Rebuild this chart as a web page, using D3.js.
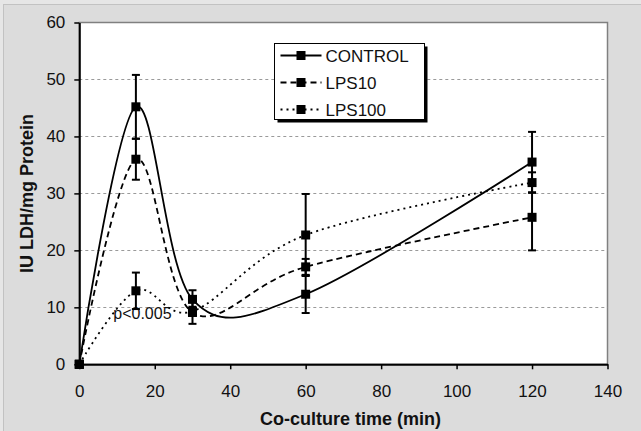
<!DOCTYPE html>
<html>
<head>
<meta charset="utf-8">
<script src="https://cdn.jsdelivr.net/npm/d3@7"></script>
<style>
  html, body { margin: 0; padding: 0; background: #dddddd; }
  svg { display: block; font-family: "Liberation Sans", Arial, sans-serif; }
</style>
</head>
<body>
<svg id="chart" width="641" height="431"></svg>
<script>
// ---- data ----
const times = [0, 15, 30, 60, 120];
const seriesNames = ["CONTROL", "LPS10", "LPS100"];
const controlValues = [0, 45.2, 11.4, 12.3, 35.5];
const controlErrors = [0, 5.6, 1.6, 3.3, 5.3];
const lps10Values = [0, 36.0, 9.1, 17.1, 25.8];
const lps10Errors = [0, 3.6, 2.0, 1.4, 5.8];
const lps100Values = [0, 12.9, 9.3, 22.7, 31.9];
const lps100Errors = [0, 3.2, 0.8, 7.2, 1.8];
const xTicks = [0, 20, 40, 60, 80, 100, 120, 140];
const yTicks = [0, 10, 20, 30, 40, 50, 60];
const annotation = { text: "p<0.005", x: 9, y: 8.0 };

const series = [
  { name: seriesNames[0], values: controlValues, errors: controlErrors, dash: null },
  { name: seriesNames[1], values: lps10Values, errors: lps10Errors, dash: "6,4" },
  { name: seriesNames[2], values: lps100Values, errors: lps100Errors, dash: "2,4" }
];

// ---- layout ----
const W = 641, H = 431;
const plot = { left: 79.3, right: 607.5, top: 22.5, bottom: 364.3 };

const svg = d3.select("#chart");

// outer chart area
svg.append("rect").attr("x", 0).attr("y", 0).attr("width", W).attr("height", H).attr("fill", "#e6e6e6");
svg.append("rect").attr("x", 3.5).attr("y", 4.5).attr("width", W - 3).attr("height", H - 4)
  .attr("fill", "#dcdcdc").attr("stroke", "#c2c2c2").attr("stroke-width", 1);

const x = d3.scaleLinear().domain([0, 140]).range([plot.left, plot.right]);
const y = d3.scaleLinear().domain([0, 60]).range([plot.bottom, plot.top]);

// plot area
svg.append("rect")
  .attr("x", plot.left).attr("y", plot.top)
  .attr("width", plot.right - plot.left).attr("height", plot.bottom - plot.top)
  .attr("fill", "#ffffff").attr("stroke", "#808080").attr("stroke-width", 1.5);

// gridlines
svg.append("g").selectAll("line")
  .data(yTicks.filter(t => t > 0 && t < 60))
  .join("line")
  .attr("x1", plot.left).attr("x2", plot.right)
  .attr("y1", d => Math.round(y(d)) + 0.5).attr("y2", d => Math.round(y(d)) + 0.5)
  .attr("stroke", "#9a9a9a").attr("stroke-width", 1).attr("stroke-dasharray", "3,3");

// axes
const yAxis = d3.axisLeft(y).tickValues(yTicks).tickSize(5).tickPadding(9).tickSizeOuter(0);
const xAxis = d3.axisBottom(x).tickValues(xTicks).tickSize(5).tickPadding(16).tickSizeOuter(0);

const gy = svg.append("g").attr("transform", `translate(${plot.left},0)`).call(yAxis);
const gx = svg.append("g").attr("transform", `translate(0,${plot.bottom})`).call(xAxis);
[gx, gy].forEach(g => {
  g.select(".domain").attr("stroke", "#000").attr("stroke-width", 2);
  g.selectAll(".tick line").attr("stroke", "#000").attr("stroke-width", 1.5);
  g.selectAll(".tick text").attr("fill", "#111").style("font-size", "17px")
    .style("font-family", '"Liberation Sans", Arial, sans-serif');
});

// axis titles
svg.append("text")
  .attr("x", (plot.left + plot.right) / 2 + 7).attr("y", 425)
  .attr("text-anchor", "middle")
  .style("font-size", "18px").style("font-weight", "bold").attr("fill", "#111")
  .text("Co-culture time (min)");
svg.append("text")
  .attr("transform", `translate(33,${(plot.top + plot.bottom) / 2}) rotate(-90)`)
  .attr("text-anchor", "middle")
  .style("font-size", "18px").style("font-weight", "bold").attr("fill", "#111")
  .text("IU LDH/mg Protein");

// lines
const line = d3.line()
  .x(d => x(d[0])).y(d => y(d[1]))
  .curve(d3.curveCardinal.tension(0));

const gLines = svg.append("g");
series.forEach(s => {
  gLines.append("path")
    .datum(times.map((t, i) => [t, s.values[i]]))
    .attr("d", line)
    .attr("fill", "none").attr("stroke", "#000").attr("stroke-width", 1.8)
    .attr("stroke-dasharray", s.dash);
});

// annotation
svg.append("text")
  .attr("x", x(annotation.x)).attr("y", y(annotation.y))
  .style("font-size", "16px").attr("fill", "#111")
  .text(annotation.text);

// error bars and markers
const gErr = svg.append("g");
series.forEach(s => {
  times.forEach((t, i) => {
    const e = s.errors[i];
    if (!e) return;
    const cx = x(t);
    const y1 = y(s.values[i] + e), y2 = y(s.values[i] - e);
    gErr.append("line").attr("x1", cx).attr("x2", cx).attr("y1", y1).attr("y2", y2)
      .attr("stroke", "#000").attr("stroke-width", 2);
    [y1, y2].forEach(yy => {
      gErr.append("line").attr("x1", cx - 4).attr("x2", cx + 4).attr("y1", yy).attr("y2", yy)
        .attr("stroke", "#000").attr("stroke-width", 2);
    });
  });
});
const gMarks = svg.append("g");
series.forEach(s => {
  gMarks.selectAll(null)
    .data(times.map((t, i) => [t, s.values[i]]))
    .join("rect")
    .attr("x", d => x(d[0]) - 4.5).attr("y", d => y(d[1]) - 4.5)
    .attr("width", 9).attr("height", 9).attr("fill", "#000");
});

// legend
const lg = svg.append("g").attr("transform", "translate(274.5,43.5)");
lg.append("rect").attr("x", 3).attr("y", 3).attr("width", 150).attr("height", 76).attr("fill", "#000");
lg.append("rect").attr("x", 0).attr("y", 0).attr("width", 150).attr("height", 76)
  .attr("fill", "#fff").attr("stroke", "#000").attr("stroke-width", 1);
series.forEach((s, i) => {
  const ry = 12 + i * 27;
  lg.append("line").attr("x1", 6).attr("x2", 47).attr("y1", ry).attr("y2", ry)
    .attr("stroke", "#000").attr("stroke-width", 1.8).attr("stroke-dasharray", s.dash);
  lg.append("rect").attr("x", 26.5 - 4.5).attr("y", ry - 4.5).attr("width", 9).attr("height", 9).attr("fill", "#000");
  lg.append("text").attr("x", 51).attr("y", ry).attr("dy", "0.36em")
    .style("font-size", "17px").attr("fill", "#111").text(s.name);
});
</script>
</body>
</html>
